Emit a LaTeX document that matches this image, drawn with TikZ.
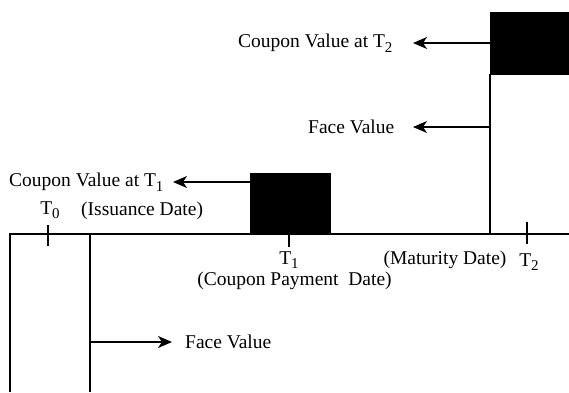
\documentclass[tikz,border=0pt]{standalone}
\usepackage{fontspec}
\setmainfont{Liberation Serif}
\usetikzlibrary{arrows.meta}
\newcommand{\tsub}[1]{\raisebox{-0.5ex}{\fontsize{15}{15}\selectfont #1}}
\begin{document}
\begin{tikzpicture}[x=1pt,y=-1pt,
  line/.style={line width=1.3pt},
  arr/.style={line width=1.3pt,-{Stealth[length=14pt,width=12pt,inset=4pt]}},
  lbl/.style={font=\fontsize{19.5}{22}\selectfont, inner sep=0pt},
  blk/.style={fill=black,draw=black,inner sep=0pt}]
\useasboundingbox (0,0) rectangle (569,392);
% black boxes
\node[blk, minimum width=80pt, minimum height=61pt, anchor=north west] (b1) at (250,173) {};
\node[blk, minimum width=79pt, minimum height=62pt, anchor=north west] (b2) at (490,12) {};
% axis and frame
\coordinate (axL) at (10,234);
\coordinate (axR) at (569,234);
\coordinate (l0) at (10,392);
\coordinate (i0) at (90,234);
\coordinate (i1) at (90,392);
\draw[line] (l0) -- (axL) -- (axR);
\draw[line] (i0) -- (i1);
\coordinate (m0) at (b2.south west |- axL);
\draw[line] (b2.south west) -- (m0);
% ticks
\coordinate (t0a) at (48,225); \coordinate (t0b) at (48,246);
\coordinate (t1a) at (289,234); \coordinate (t1b) at (289,247);
\coordinate (t2a) at (527,222); \coordinate (t2b) at (527,244);
\draw[line] (t0a) -- (t0b);
\draw[line] (t1a) -- (t1b);
\draw[line] (t2a) -- (t2b);
% labels
\node[lbl, anchor=west] (cv1) at (9,182) {Coupon Value at T\tsub{1}};
\node[lbl] (T0) at (50,210) {T\tsub{0}};
\node[lbl, anchor=west] (iss) at (81,211) {(Issuance Date)};
\node[lbl] (T1) at (289,260) {T\tsub{1}};
\node[lbl] (cpd) at (294.5,281) {(Coupon Payment~ Date)};
\node[lbl] (mat) at (445,260) {(Maturity Date)};
\node[lbl] (T2) at (529,262) {T\tsub{2}};
\node[lbl, anchor=west] (cv2) at (238,43) {Coupon Value at T\tsub{2}};
\node[lbl, anchor=west] (fv1) at (308,127) {Face Value};
\node[lbl, anchor=west] (fv0) at (185,342) {Face Value};
% arrows
\coordinate (a1) at (173,182);
\draw[arr] (b1.west |- a1) -- (a1);
\coordinate (a2) at (413,43);
\draw[arr] (b2.west |- a2) -- (a2);
\coordinate (a3s) at (490,127);
\coordinate (a3) at (413,127);
\draw[arr] (a3s) -- (a3);
\coordinate (a4s) at (90,342);
\coordinate (a4) at (172,342);
\draw[arr] (a4s) -- (a4);
\end{tikzpicture}
\end{document}
